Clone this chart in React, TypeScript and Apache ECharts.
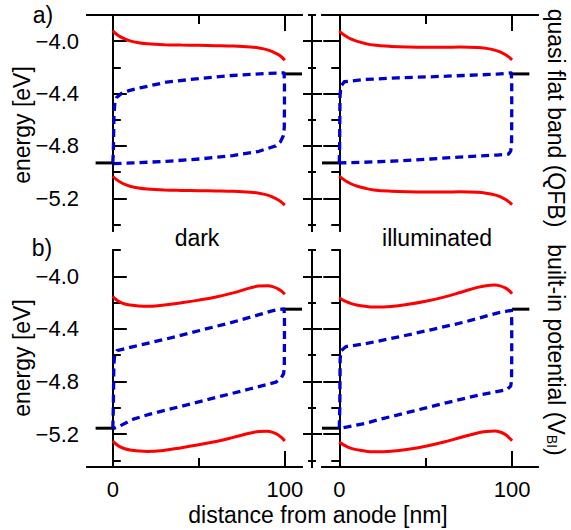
import React, { useEffect, useRef } from "react";
import * as echarts from "echarts";

// ---------- data ----------
// x positions (nm) at which the transport levels were read
const bandX = [0, 2, 4, 7, 10, 15, 20, 30, 40, 50, 60, 70, 80, 85, 90, 93, 96, 98, 100];

// a) quasi flat band, dark
const lumoDarkQFB = [-3.92, -3.945, -3.963, -3.983, -3.998, -4.012, -4.02, -4.027, -4.03, -4.032, -4.034, -4.037, -4.044, -4.052, -4.066, -4.081, -4.101, -4.119, -4.145];
const homoDarkQFB = [-5.032, -5.056, -5.074, -5.094, -5.108, -5.122, -5.13, -5.137, -5.14, -5.142, -5.144, -5.147, -5.154, -5.162, -5.176, -5.191, -5.211, -5.229, -5.252];
// a) quasi flat band, illuminated
const lumoLightQFB = [-3.922, -3.945, -3.963, -3.985, -4.0, -4.018, -4.03, -4.04, -4.045, -4.047, -4.047, -4.045, -4.048, -4.055, -4.068, -4.082, -4.102, -4.12, -4.142];
const homoLightQFB = [-5.03, -5.052, -5.07, -5.091, -5.106, -5.124, -5.136, -5.146, -5.151, -5.153, -5.153, -5.151, -5.154, -5.161, -5.174, -5.188, -5.208, -5.226, -5.248];
// b) built-in potential, dark
const lumoDarkBI = [-4.153, -4.178, -4.195, -4.211, -4.219, -4.226, -4.228, -4.218, -4.201, -4.181, -4.157, -4.126, -4.088, -4.074, -4.071, -4.078, -4.095, -4.112, -4.137];
const homoDarkBI = [-5.252, -5.277, -5.295, -5.311, -5.32, -5.328, -5.332, -5.323, -5.303, -5.281, -5.256, -5.225, -5.192, -5.18, -5.178, -5.187, -5.205, -5.225, -5.252];
// b) built-in potential, illuminated
const lumoLightBI = [-4.163, -4.18, -4.193, -4.208, -4.218, -4.228, -4.233, -4.229, -4.213, -4.19, -4.16, -4.123, -4.084, -4.071, -4.067, -4.073, -4.088, -4.106, -4.132];
const homoLightBI = [-5.26, -5.278, -5.292, -5.308, -5.318, -5.329, -5.334, -5.33, -5.315, -5.292, -5.262, -5.226, -5.192, -5.18, -5.177, -5.184, -5.202, -5.224, -5.25];

// quasi-Fermi levels (electron level from anode to cathode, then hole level back)
const fermiDarkQFB: [number, number][] = [
  [0, -4.93], [0.3, -4.85], [0.5, -4.7], [0.7, -4.56], [1.2, -4.47], [2.3, -4.43], [5, -4.4], [10, -4.375],
  [15.8, -4.357], [31.2, -4.313], [50.5, -4.285], [69.7, -4.262], [89, -4.247], [99.5, -4.242],
  [99.8, -4.3], [99.8, -4.5], [99.7, -4.66], [99.2, -4.72], [97.5, -4.768], [94.8, -4.8], [85, -4.841],
  [69.7, -4.874], [50.5, -4.9], [31.2, -4.918], [12, -4.93], [0, -4.935],
];
const fermiLightQFB: [number, number][] = [
  [0, -4.93], [0.2, -4.8], [0.3, -4.6], [0.4, -4.43], [0.9, -4.345], [2.9, -4.31], [14.4, -4.293],
  [33.7, -4.28], [52.9, -4.272], [72.1, -4.262], [91.3, -4.252], [99.5, -4.242],
  [99.8, -4.3], [99.8, -4.6], [99.7, -4.79], [99.2, -4.84], [98, -4.862], [91.3, -4.87], [72.1, -4.883],
  [52.9, -4.9], [33.7, -4.915], [14.4, -4.925], [0, -4.93],
];
const fermiDarkBI: [number, number][] = [
  [0, -5.158], [0.3, -5.0], [0.5, -4.8], [0.6, -4.67], [1.1, -4.6], [2.5, -4.565], [12, -4.534], [31.2, -4.476],
  [50.5, -4.412], [69.7, -4.349], [85, -4.292], [92, -4.265], [96, -4.253], [99.5, -4.247],
  [99.8, -4.3], [99.8, -4.5], [99.7, -4.69], [99.3, -4.74], [98, -4.772], [94.8, -4.805], [79.4, -4.857],
  [60.1, -4.921], [40.8, -4.985], [21.6, -5.048], [12, -5.086], [4.2, -5.137], [0.4, -5.158],
];
const fermiLightBI: [number, number][] = [
  [0, -5.155], [0.3, -5.0], [0.4, -4.8], [0.5, -4.63], [1.1, -4.565], [3.9, -4.534], [14.4, -4.514],
  [33.7, -4.463], [52.9, -4.407], [72.1, -4.349], [91.3, -4.28], [97, -4.265], [99.6, -4.26],
  [99.8, -4.35], [99.8, -4.6], [99.7, -4.79], [99.2, -4.835], [97, -4.862], [81.7, -4.9], [62.5, -4.96],
  [43.3, -5.023], [24, -5.086], [14.4, -5.12], [4.8, -5.145], [0, -5.155],
];

// electrode levels (anode work function, cathode work function)
const anodeLevel = [-4.93, -4.93, -5.155, -5.155];
const cathodeLevel = [-4.25, -4.25, -4.25, -4.25];
const anodeMarkX = [-10, 0];
const cathodeMarkX = [100, 110];

// axis ticks
const yMajorTicks = [-5.2, -4.8, -4.4, -4.0];
const yMinorTicks = [-5.4, -5.0, -4.6, -4.2, -3.8];
const xMajorTicks = [0, 100];
const xMinorTicks = [50];

const FONT = "'Liberation Sans', Arial, Helvetica, sans-serif";
const RED = "#ff0000";
const BLUE = "#0000cc";

export default function App() {
  const ref = useRef<HTMLDivElement>(null);

  useEffect(() => {
    if (!ref.current) return;
    const chart = echarts.init(ref.current, undefined, { renderer: "svg" });

    const grids = [
      { left: 87, top: 15, width: 215, height: 216 },
      { left: 322, top: 15, width: 216, height: 216 },
      { left: 87, top: 250, width: 215, height: 217 },
      { left: 322, top: 250, width: 216, height: 217 },
    ];
    const xRange = [
      [-15, 110],
      [-10, 115],
      [-15, 110],
      [-10, 115],
    ];
    const line = { show: true, lineStyle: { color: "#000", width: 2 } };

    const xAxes: any[] = [];
    const xDataIndex: number[] = [];
    grids.forEach((_, gi) => {
      const pos = gi < 2 ? "top" : "bottom";
      const showLabel = gi >= 2;
      xDataIndex.push(xAxes.length);
      xAxes.push({
        type: "value", gridIndex: gi, position: pos, min: xRange[gi][0], max: xRange[gi][1],
        axisLine: line, splitLine: { show: false },
        axisTick: { show: true, inside: true, length: 16, customValues: xMajorTicks, lineStyle: { color: "#000", width: 2 } },
        axisLabel: { show: showLabel, customValues: xMajorTicks, margin: 11, color: "#000", fontSize: 22, fontFamily: FONT },
      });
      xAxes.push({
        type: "value", gridIndex: gi, position: pos, min: xRange[gi][0], max: xRange[gi][1],
        axisLine: line, splitLine: { show: false },
        axisTick: { show: true, inside: true, length: 9, customValues: xMinorTicks, lineStyle: { color: "#000", width: 2 } },
        axisLabel: { show: false },
      });
    });

    const yBase = { type: "value", min: -5.45, max: -3.8, splitLine: { show: false } };
    const yAxes: any[] = [];
    const yDataIndex: number[] = [];
    grids.forEach((_, gi) => {
      const isLeft = gi % 2 === 0;
      yDataIndex.push(yAxes.length);
      yAxes.push({
        ...yBase, gridIndex: gi, position: isLeft ? "left" : "right", axisLine: line,
        axisTick: { show: true, inside: true, length: isLeft ? 14 : 16, customValues: yMajorTicks, lineStyle: { color: "#000", width: 2 } },
        axisLabel: {
          show: isLeft, customValues: yMajorTicks, margin: 8, color: "#000", fontSize: 22, fontFamily: FONT,
          formatter: (v: number) => v.toFixed(1).replace("-", "\u2212"),
        },
      });
      yAxes.push({
        ...yBase, gridIndex: gi, position: isLeft ? "left" : "right", axisLine: line,
        axisTick: { show: true, inside: true, length: 8, customValues: yMinorTicks, lineStyle: { color: "#000", width: 2 } },
        axisLabel: { show: false },
      });
      if (!isLeft) {
        // the shared axis between the two columns, ticks crossing it
        const mid = (inside: boolean, len: number, vals: number[]) => ({
          ...yBase, gridIndex: gi, position: "left", offset: 10, axisLine: line,
          axisTick: { show: true, inside, length: len, customValues: vals, lineStyle: { color: "#000", width: 2 } },
          axisLabel: { show: false },
        });
        yAxes.push(mid(true, 10, yMajorTicks));
        yAxes.push(mid(false, 9, yMajorTicks));
        yAxes.push(mid(true, 4, yMinorTicks));
        yAxes.push(mid(false, 4, yMinorTicks));
      }
    });

    const panels = [
      { lumo: lumoDarkQFB, homo: homoDarkQFB, fermi: fermiDarkQFB },
      { lumo: lumoLightQFB, homo: homoLightQFB, fermi: fermiLightQFB },
      { lumo: lumoDarkBI, homo: homoDarkBI, fermi: fermiDarkBI },
      { lumo: lumoLightBI, homo: homoLightBI, fermi: fermiLightBI },
    ];

    const series: any[] = [];
    panels.forEach((p, gi) => {
      const ax = { xAxisIndex: xDataIndex[gi], yAxisIndex: yDataIndex[gi] };
      const base = { type: "line", showSymbol: false, symbol: "none", silent: true, clip: false, ...ax };
      series.push({
        ...base, smooth: 0.4, data: bandX.map((x, i) => [x, p.lumo[i]]),
        lineStyle: { color: RED, width: 3 },
      });
      series.push({
        ...base, smooth: 0.4, data: bandX.map((x, i) => [x, p.homo[i]]),
        lineStyle: { color: RED, width: 3 },
      });
      series.push({
        ...base, data: anodeMarkX.map((x) => [x, anodeLevel[gi]]),
        lineStyle: { color: "#000", width: 3 },
      });
      series.push({
        ...base, data: cathodeMarkX.map((x) => [x, cathodeLevel[gi]]),
        lineStyle: { color: "#000", width: 3 },
      });
      series.push({
        ...base, data: p.fermi, z: 3,
        lineStyle: { color: BLUE, width: 3.3, type: [8, 5], cap: "butt", join: "round" },
      });
    });

    const txt = (text: string, x: number, y: number, rotation = 0, extra: any = {}) => ({
      type: "text", x, y, rotation, silent: true,
      style: { text, fill: "#000", font: `23px ${FONT}`, align: "center", verticalAlign: "middle", ...extra },
    });

    const graphic = [
      txt("a)", 43, 15),
      txt("b)", 42, 248),
      txt("dark", 197, 238),
      txt("illuminated", 437, 238),
      txt("energy [eV]", 22, 125, Math.PI / 2),
      txt("energy [eV]", 22, 358, Math.PI / 2),
      txt("quasi flat band (QFB)", 556, 118, -Math.PI / 2),
      txt("built-in potential (V{sub|BI})", 556, 350, -Math.PI / 2, {
        rich: { sub: { fontSize: 14, fontFamily: FONT, verticalAlign: "bottom", fill: "#000" } },
      }),
      txt("distance from anode [nm]", 318, 515),
    ];

    chart.setOption({
      animation: false,
      backgroundColor: "#fff",
      textStyle: { fontFamily: FONT },
      grid: grids,
      xAxis: xAxes,
      yAxis: yAxes,
      series,
      graphic,
    });

    return () => chart.dispose();
  }, []);

  return (
    <div
      ref={ref}
      style={{ position: "fixed", left: 0, top: 0, width: 571, height: 530, background: "#fff" }}
    />
  );
}
